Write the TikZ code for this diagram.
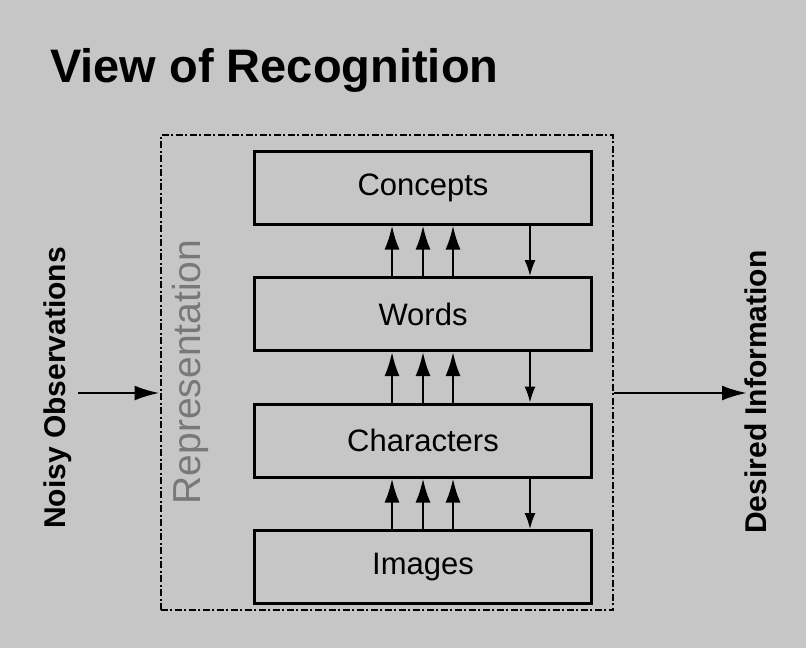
\documentclass[tikz,border=0pt]{standalone}
\usepackage{fontspec}
\setmainfont{Liberation Sans}
\usepackage{xcolor}
\usepackage{tikz}
\usetikzlibrary{arrows.meta, positioning}
\definecolor{paper}{RGB}{198,198,198}
\definecolor{repgray}{RGB}{120,120,120}
\tikzset{
  stage/.style={
    rectangle, draw, line width=3pt,
    minimum width=337pt, minimum height=73pt,
    inner sep=0pt, text centered,
    font=\fontsize{31}{36}\selectfont
  },
  frame/.style={
    rectangle, draw, line width=2pt,
    dash pattern=on 7pt off 2.5pt on 2pt off 2.5pt,
    inner sep=0pt
  },
  sidelabel/.style={
    inner sep=0pt, rotate=90,
    font=\bfseries\fontsize{30}{34}\selectfont
  },
  upline/.style={draw, line width=2.5pt, -{Latex[length=24pt, width=15pt]}},
  downline/.style={draw, line width=1.6pt, -{Latex[length=16pt, width=11pt]}},
  ioline/.style={draw, line width=2.5pt, -{Latex[length=25pt, width=15pt]}},
}

\begin{document}
\begin{tikzpicture}[x=1pt, y=-1pt, node distance=50.5pt]
  \fill[paper] (0,0) rectangle (806,648);
  \useasboundingbox (0,0) rectangle (806,648);

  % Title
  \node[anchor=base west, inner sep=0pt, font=\bfseries\fontsize{47}{56}\selectfont]
    (title) at (50,82) {View of Recognition};

  % Representation frame
  \node[frame, minimum width=452.5pt, minimum height=475pt] (rep) at (386.75,372.5) {};
  \node[rotate=90, inner sep=0pt, text=repgray, font=\fontsize{39}{44}\selectfont]
    (replabel) at (190,372) {Representation};

  % Layers
  \node[stage] (concepts) at (423,187.5) {Concepts};
  \node[stage, below=of concepts] (words) {Words};
  \node[stage, below=of words] (chars) {Characters};
  \node[stage, below=of chars] (images) {Images};

  % Input and output
  \node[sidelabel] (noisy) at (58,388) {Noisy Observations};
  \node[sidelabel] (desired) at (756,392) {Desired Information};
  \coordinate (in) at (78,393);
  \coordinate (out) at (747,393);

  % Arrows
  \foreach \lo/\hi in {words/concepts, chars/words, images/chars} {
    \foreach \dx in {-31,0,30}
      \draw[upline] ([xshift=\dx pt]\lo.north) -- ([xshift=\dx pt]\hi.south);
    \draw[downline] ([xshift=107pt]\hi.south) -- ([xshift=107pt]\lo.north);
  }
  \draw[ioline] (in) -- (in -| rep.west);
  \draw[ioline] (out -| rep.east) -- (out);
\end{tikzpicture}
\end{document}
